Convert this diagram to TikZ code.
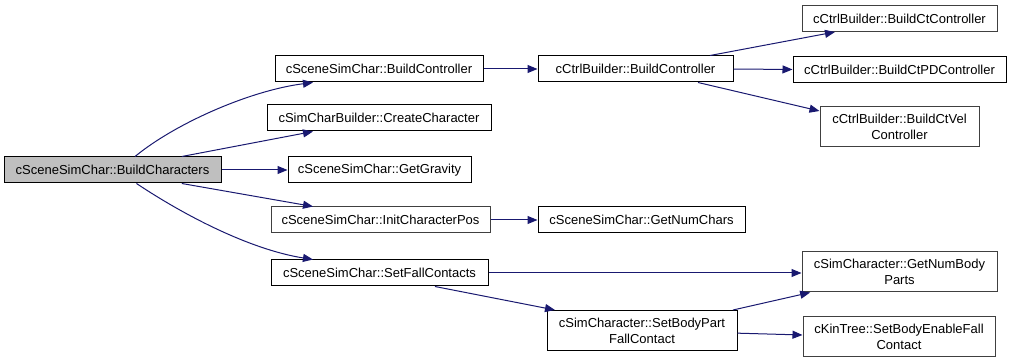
\documentclass[tikz,border=0pt]{standalone}
\usepackage{fontspec}
\setmainfont{Liberation Sans}
\usetikzlibrary{arrows.meta}

\definecolor{edgeblue}{HTML}{191970}
\definecolor{rootfill}{HTML}{BFBFBF}
\definecolor{boxgray}{HTML}{404040}

\begin{document}
\begin{tikzpicture}[x=0.75pt,y=-0.75pt,
    fn/.style={draw=black,line width=0.75pt,fill=white,inner sep=0pt,align=center,
        minimum height=19.5pt,font=\fontsize{9.75}{12}\selectfont},
    fnx/.style={fn,draw=boxgray},
    two/.style={minimum height=30pt},
    call/.style={draw=edgeblue,line width=0.75pt,-{Triangle[length=7.5pt,width=6pt]}}]
\useasboundingbox (0,0) rectangle (1011,363);

% caller
\node[fn,fill=rootfill,minimum width=162.75pt] (n0) at (112.5,170) {cSceneSimChar::BuildCharacters};

% first level
\node[fn,minimum width=156pt] (buildctrl) at (379,69) {cSceneSimChar::BuildController};
\node[fn,minimum width=168pt] (create) at (379,118) {cSimCharBuilder::CreateCharacter};
\node[fn,minimum width=137.25pt] (gravity) at (379.5,170) {cSceneSimChar::GetGravity};
\node[fnx,minimum width=164.25pt] (initpos) at (380.5,220) {cSceneSimChar::InitCharacterPos};
\node[fn,minimum width=162.75pt] (setfall) at (379.5,273) {cSceneSimChar::SetFallContacts};

% second level
\node[fn,minimum width=146.25pt] (cbuild) at (635.5,69) {cCtrlBuilder::BuildController};
\node[fn,minimum width=155.25pt] (numchars) at (641.5,220) {cSceneSimChar::GetNumChars};
\node[fn,two,minimum width=142.5pt] (bodypart) at (642,330.5) {cSimCharacter::SetBodyPart\\FallContact};

% third level
\node[fnx,minimum width=146.25pt] (ctctrl) at (899.5,18.5) {cCtrlBuilder::BuildCtController};
\node[fn,minimum width=159.75pt] (pdctrl) at (899.5,69.5) {cCtrlBuilder::BuildCtPDController};
\node[fnx,two,minimum width=119.25pt] (velctrl) at (899.5,127) {cCtrlBuilder::BuildCtVel\\Controller};
\node[fnx,two,minimum width=146.25pt] (numbody) at (899.5,272) {cSimCharacter::GetNumBody\\Parts};
\node[fnx,two,minimum width=144pt] (enable) at (899,337) {cKinTree::SetBodyEnableFall\\Contact};

% calls
\draw[call] ([xshift=16.9pt]n0.north) .. controls +(40,-33) and +(-63,8) .. ([xshift=-49.5pt]buildctrl.south);
\draw[call] ([xshift=52pt]n0.north) -- ([xshift=-49.5pt]create.south);
\draw[call] (n0.east) -- (gravity.west);
\draw[call] ([xshift=52pt]n0.south) -- ([xshift=-50.6pt]initpos.north);
\draw[call] ([xshift=18pt]n0.south) .. controls +(48,32) and +(-63,-10) .. ([xshift=-49.9pt]setfall.north);

\draw[call] (buildctrl.east) -- (cbuild.west);
\draw[call] ([xshift=55.9pt]cbuild.north) -- ([xshift=-48.4pt]ctctrl.south);
\draw[call] (cbuild.east) -- (pdctrl.west);
\draw[call] ([xshift=46.9pt]cbuild.south) -- ([yshift=12pt]velctrl.west);

\draw[call] (initpos.east) -- (numchars.west);
\draw[call] (setfall.east) -- (setfall.east -| numbody.west);
\draw[call] ([xshift=41.6pt]setfall.south) -- ([xshift=-65.25pt]bodypart.north);
\draw[call] ([xshift=68.25pt]bodypart.north) -- ([xshift=-67pt]numbody.south);
\draw[call] ([yshift=-2pt]bodypart.east) -- ([yshift=1.5pt]enable.west);
\end{tikzpicture}
\end{document}
